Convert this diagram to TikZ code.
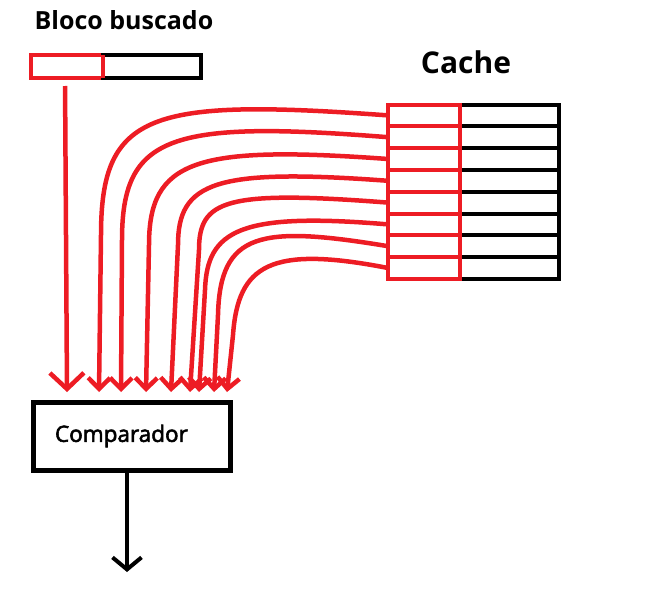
\documentclass[tikz,border=0pt]{standalone}
\usepackage{fontspec}
\setmainfont{Open Sans}
\newfontfamily\compfont{Open Sans}[FakeBold=2.5]
\usetikzlibrary{arrows.meta, positioning}
\definecolor{fiocolor}{HTML}{ED1C24}

\begin{document}
\begin{tikzpicture}[x=1pt, y=-1pt,
  tagbox/.style={rectangle, draw=fiocolor, line width=4pt, inner sep=0pt, outer sep=0pt,
                 minimum width=72pt, minimum height=21.8pt},
  dadosbox/.style={rectangle, draw=black, line width=4pt, inner sep=0pt, outer sep=0pt,
                   minimum width=99pt, minimum height=21.8pt},
  fio/.style={draw=fiocolor, line width=4.5pt, -{Straight Barb[length=11pt,width=22pt]}},
  titulo/.style={font=\bfseries\fontsize{25}{30}\selectfont, inner sep=0pt}
]
  \useasboundingbox (0,0) rectangle (672,613);

  % bloco buscado
  \node[titulo] (tituloBloco) at (124,20) {Bloco buscado};
  \node[tagbox, minimum width=72pt, minimum height=23pt, anchor=north west] (buscaTag) at (31,55) {};
  \node[dadosbox, minimum width=98pt, minimum height=23pt, anchor=north west] (buscaDados) at (buscaTag.north east) {};
  \draw[draw=fiocolor, line width=4pt] (buscaTag.north east) -- (buscaTag.south east);

  % cache
  \node[titulo, font=\bfseries\fontsize{30}{36}\selectfont] (tituloCache) at (466,62) {Cache};
  \foreach \i in {1,...,8} {
    \node[dadosbox, anchor=north west] (dados\i) at (460,{104.5+21.8*(\i-1)}) {};
  }
  \foreach \i in {1,...,8} {
    \node[tagbox, anchor=north east] (tag\i) at (dados\i.north west) {};
  }

  % comparador
  \node[rectangle, draw=black, line width=5pt, outer sep=0pt, minimum width=197pt, minimum height=68pt,
        inner xsep=21.5pt, text width=154pt, align=left,
        font=\compfont\fontsize{22.5}{27}\selectfont] (comp) at (132,436) {Comparador};
  \coordinate (saida) at (127,572);
  \draw[line width=4pt, -{Straight Barb[length=12pt,width=29pt]}] (comp.south -| saida) -- (saida);

  % ligacoes
  \coordinate (ent0) at (67,392);
  \draw[fio, -{Straight Barb[length=16pt,width=34pt]}, shorten <=8pt] (buscaTag.south -| 65,0) -- (ent0);
  \foreach \i/\ax/\ay/\bx/\by/\vx/\vy/\tx in {
      1/150/98/101/112/101/235/99,
      2/170/120/122/135/122/240/121,
      3/195/145/149/160/149/245/146,
      4/215/168/178/182/178/245/171,
      5/225/190/199/200/199/250/190,
      6/240/212/207/230/205/290/199,
      7/260/225/220/232/218/315/214,
      8/270/245/238/265/233/335/227} {
    \coordinate (v\i) at (\vx,\vy);
    \coordinate (ent\i) at (\tx,392);
    \draw[fio] (tag\i.west) .. controls (\ax,\ay) and (\bx,\by) .. (v\i) -- (ent\i);
  }
\end{tikzpicture}
\end{document}
